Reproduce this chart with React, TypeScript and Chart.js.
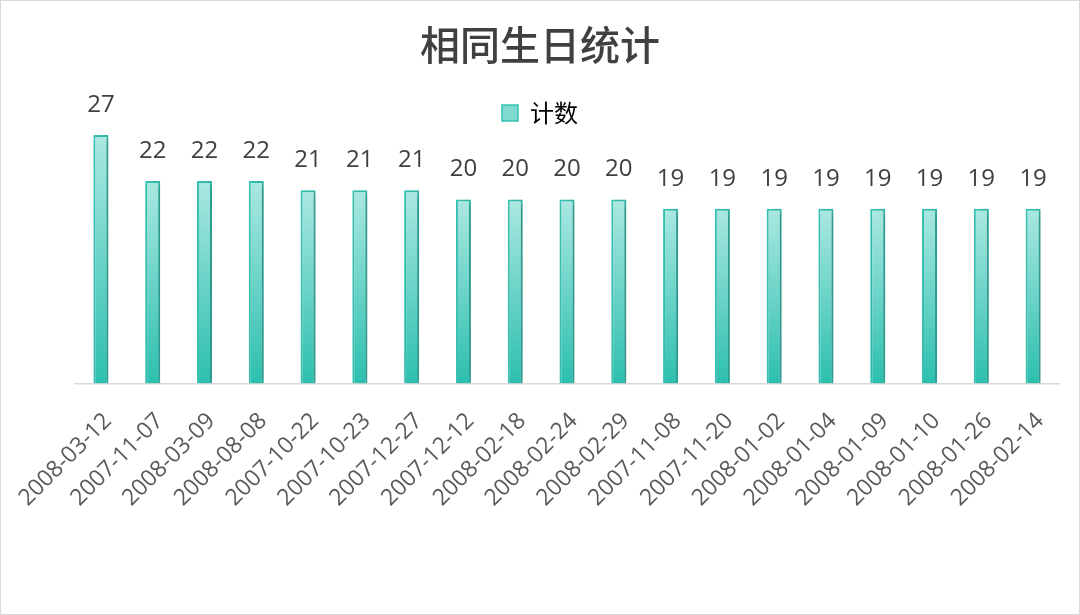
import React, { useEffect, useRef } from "react";
import { Chart, registerables, type ChartConfiguration, type Plugin } from "chart.js";

Chart.register(...registerables);

const dates = [
  "2008-03-12", "2007-11-07", "2008-03-09", "2008-08-08", "2007-10-22",
  "2007-10-23", "2007-12-27", "2007-12-12", "2008-02-18", "2008-02-24",
  "2008-02-29", "2007-11-08", "2007-11-20", "2008-01-02", "2008-01-04",
  "2008-01-09", "2008-01-10", "2008-01-26", "2008-02-14",
];
const counts = [27, 22, 22, 22, 21, 21, 21, 20, 20, 20, 20, 19, 19, 19, 19, 19, 19, 19, 19];
const seriesName = "计数";
const titleText = "相同生日统计";

const LATIN = "'Open Sans', 'Noto Sans', sans-serif";
const CJK = "'Noto Sans CJK SC', 'Noto Sans', sans-serif";

// shadow behind the bars + value labels on top
const barDecor: Plugin<"bar"> = {
  id: "barDecor",
  beforeDatasetsDraw(chart) {
    const ctx = chart.ctx;
    ctx.save();
    ctx.shadowColor = "rgba(0,0,0,0.28)";
    ctx.shadowBlur = 10;
    ctx.shadowOffsetX = 5;
    ctx.shadowOffsetY = 1;
  },
  afterDatasetsDraw(chart) {
    const ctx = chart.ctx;
    ctx.restore();
    const meta = chart.getDatasetMeta(0);
    ctx.save();
    ctx.font = `24px ${LATIN}`;
    ctx.fillStyle = "#404040";
    ctx.textAlign = "center";
    ctx.textBaseline = "middle";
    meta.data.forEach((bar, i) => {
      ctx.fillText(String(counts[i]), bar.x, bar.y - 30);
    });
    ctx.restore();
  },
};

export default function App() {
  const canvasRef = useRef<HTMLCanvasElement | null>(null);
  const chartRef = useRef<Chart<"bar"> | null>(null);

  useEffect(() => {
    if (!canvasRef.current) return;

    const config: ChartConfiguration<"bar"> = {
      type: "bar",
      data: {
        labels: dates,
        datasets: [
          {
            label: seriesName,
            data: counts,
            backgroundColor: (c) => {
              const chart = c.chart;
              const y = chart.scales?.y;
              if (!y || c.dataIndex === undefined) return "#7fd9ce";
              const top = y.getPixelForValue(counts[c.dataIndex]);
              const bottom = y.getPixelForValue(0);
              const g = chart.ctx.createLinearGradient(0, top, 0, bottom);
              g.addColorStop(0, "#aae8e1");
              g.addColorStop(1, "#2cbfae");
              return g;
            },
            borderColor: "#35c4b4",
            borderWidth: 2,
            categoryPercentage: 1,
            barPercentage: 0.29,
          },
        ],
      },
      options: {
        responsive: true,
        maintainAspectRatio: false,
        animation: false,
        layout: {
          padding: { left: 20, right: 20, top: 0, bottom: 78 },
        },
        plugins: {
          tooltip: { enabled: false },
          title: {
            display: true,
            text: titleText,
            color: "#404040",
            font: { family: CJK, size: 40, weight: "500" },
            padding: { top: 20, bottom: 22 },
          },
          legend: {
            display: true,
            position: "top",
            labels: {
              color: "#595959",
              font: { family: CJK, size: 24 },
              boxWidth: 16,
              boxHeight: 16,
              padding: 10,
              generateLabels: () => [
                {
                  text: seriesName,
                  fillStyle: "#7fd9ce",
                  strokeStyle: "#35c4b4",
                  lineWidth: 1.5,
                  hidden: false,
                  datasetIndex: 0,
                },
              ],
            },
          },
        },
        scales: {
          x: {
            grid: { display: false, drawTicks: false },
            border: { color: "#d9d9d9", width: 1.5 },
            ticks: {
              color: "#595959",
              font: { family: LATIN, size: 23 },
              minRotation: 45,
              maxRotation: 45,
              padding: 24,
              labelOffset: 7,
              autoSkip: false,
            },
            afterFit: (scale) => {
              scale.paddingLeft = 0;
              scale.paddingRight = 0;
            },
          },
          y: {
            display: true,
            min: 0,
            max: 27,
            grid: { display: false, drawTicks: false },
            border: { display: false },
            ticks: { display: false },
            afterFit: (scale) => {
              scale.width = 54;
            },
          },
        },
      },
      plugins: [barDecor],
    };

    chartRef.current = new Chart(canvasRef.current, config);

    return () => {
      chartRef.current?.destroy();
      chartRef.current = null;
    };
  }, []);

  return (
    <div
      style={{
        position: "fixed",
        left: 0,
        top: 0,
        width: 1078,
        height: 613,
        border: "1px solid #d9d9d9",
        background: "#fff",
      }}
    >
      <canvas ref={canvasRef} aria-label="相同生日统计" />
    </div>
  );
}
